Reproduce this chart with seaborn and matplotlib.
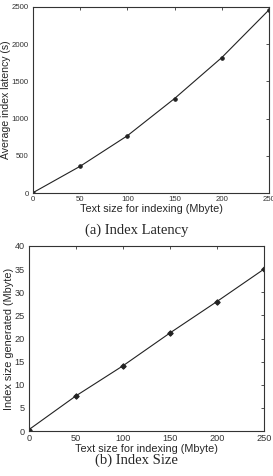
import matplotlib
matplotlib.use("Agg")
import matplotlib.pyplot as plt
import seaborn as sns
import pandas as pd

sns.set_style("white")
plt.rcParams['font.family'] = ['Liberation Sans', 'DejaVu Sans']

text_size = [0, 50, 100, 150, 200, 250]
latency = [5, 360, 770, 1270, 1820, 2460]
index_size = [0.3, 7.6, 14.1, 21.2, 28.0, 35.0]

x_ticks = [0, 50, 100, 150, 200, 250]
lat_ticks = [0, 500, 1000, 1500, 2000, 2500]
size_ticks = [0, 5, 10, 15, 20, 25, 30, 35, 40]

fig = plt.figure(figsize=(2.73, 4.76), dpi=100)

def style(ax, labelsize):
    for s in ax.spines.values():
        s.set_color('#333333')
        s.set_linewidth(0.8)
    ax.tick_params(direction='in', length=2.5, width=0.6, top=True, right=True,
                   labelsize=labelsize, colors='#333333')
    ax.tick_params(axis='y', pad=3)
    ax.tick_params(axis='x', pad=2.5)

ax1 = fig.add_axes([0.121, 0.5945, 0.864, 0.3908])
df1 = pd.DataFrame({'x': text_size, 'y': latency})
sns.lineplot(data=df1, x='x', y='y', ax=ax1, color='#222222', linewidth=0.8,
             marker='o', markersize=2.5, markeredgecolor='#222222')
ax1.set_xlim(0, 250)
ax1.set_ylim(0, 2500)
ax1.set_xticks(x_ticks)
ax1.set_yticks(lat_ticks)
ax1.set_xlabel('Text size for indexing (Mbyte)', fontsize=7.8, labelpad=0.5)
ax1.set_ylabel('Average index latency (s)', fontsize=7.6)
ax1.yaxis.set_label_coords(-0.092, 0.5)
style(ax1, 5.6)

ax2 = fig.add_axes([0.106, 0.0945, 0.861, 0.3887])
df2 = pd.DataFrame({'x': text_size, 'y': index_size})
sns.lineplot(data=df2, x='x', y='y', ax=ax2, color='#222222', linewidth=0.8,
             marker='D', markersize=2.8, markeredgecolor='#222222')
ax2.set_xlim(0, 250)
ax2.set_ylim(0, 40)
ax2.set_xticks(x_ticks)
ax2.set_yticks(size_ticks)
ax2.set_xlabel('Text size for indexing (Mbyte)', fontsize=7.8, labelpad=0.5)
ax2.set_ylabel('Index size generated (Mbyte)', fontsize=7.8)
ax2.yaxis.set_label_coords(-0.062, 0.5)
style(ax2, 6.6)

fig.text(0.5, 1 - 230 / 476, '(a) Index Latency', ha='center', va='center',
         fontsize=10.5, family='Liberation Serif')
fig.text(0.5, 1 - 460 / 476, '(b) Index Size', ha='center', va='center',
         fontsize=10.5, family='Liberation Serif')

fig.savefig('out.png', dpi=100)
